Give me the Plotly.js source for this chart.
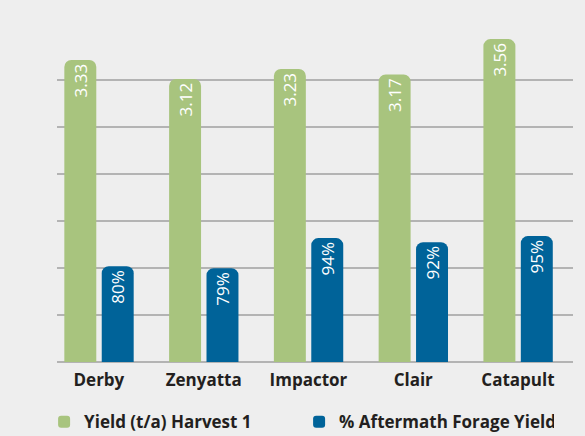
<!DOCTYPE html>
<html><head><meta charset="utf-8">
<script src="https://cdn.plot.ly/plotly-3.0.1.min.js"></script>
<style>html,body{margin:0;padding:0;background:#eeeeee;}</style>
</head><body><div id="chart" style="width:585px;height:436px;"></div>
<script>
const varieties = ['Derby', 'Zenyatta', 'Impactor', 'Clair', 'Catapult'];
const yieldHarvest1 = [3.33, 3.12, 3.23, 3.17, 3.56];
const aftermathPct = [80, 79, 94, 92, 95];
const seriesNames = ['Yield (t/a) Harvest 1', '% Aftermath Forage Yield'];
const yieldLabels = yieldHarvest1.map(v => v.toFixed(2));
const pctLabels = aftermathPct.map(v => v + '%');

const FONT = '"Open Sans", "Noto Sans", sans-serif';
const GREEN = '#a8c47e';
const BLUE = '#006399';

const barText = {color: '#ffffff', size: 17, family: FONT};

const traces = [
  {
    type: 'bar', name: seriesNames[0], x: varieties, y: yieldHarvest1,
    yaxis: 'y', width: 0.305, offset: -0.33,
    marker: {color: GREEN, cornerradius: 7},
    text: yieldLabels, textposition: 'inside', insidetextanchor: 'end',
    textangle: -90, textfont: barText, hoverinfo: 'x+y'
  },
  {
    type: 'bar', name: seriesNames[1], x: varieties, y: aftermathPct,
    yaxis: 'y2', width: 0.305, offset: 0.027,
    marker: {color: BLUE, cornerradius: 7},
    text: pctLabels, textposition: 'inside', insidetextanchor: 'end',
    textangle: -90, textfont: barText, hoverinfo: 'x+y'
  }
];

const layout = {
  width: 585, height: 436,
  paper_bgcolor: '#eeeeee', plot_bgcolor: '#eeeeee',
  margin: {l: 57, r: 12, t: 33, b: 74, autoexpand: false},
  font: {family: FONT, color: '#231f20'},
  barmode: 'group',
  showlegend: true,
  xaxis: {
    type: 'category', range: [-0.4, 4.525], showgrid: false, showline: false,
    zeroline: false, ticks: '', ticklabelstandoff: 6,
    tickfont: {family: FONT, size: 17, weight: 'bold', color: '#231f20'}
  },
  yaxis: {
    range: [0, 3.627], tick0: 0, dtick: 0.518, showticklabels: false,
    showgrid: true, gridcolor: '#b3b3b3', gridwidth: 1.5,
    zeroline: true, zerolinecolor: '#b3b3b3', zerolinewidth: 1.5, showline: false, ticks: ''
  },
  yaxis2: {
    range: [32.5, 195.8], overlaying: 'y', side: 'right', visible: false,
    showgrid: false, zeroline: false
  },
  legend: {
    orientation: 'h', x: -0.025, xanchor: 'left', y: -0.128, yanchor: 'top',
    font: {family: FONT, size: 17, weight: 'bold', color: '#231f20'},
    bgcolor: 'rgba(0,0,0,0)', entrywidth: 210, entrywidthmode: 'pixels'
  }
};

Plotly.newPlot('chart', traces, layout, {displayModeBar: false, staticPlot: true});
</script>
</body></html>
